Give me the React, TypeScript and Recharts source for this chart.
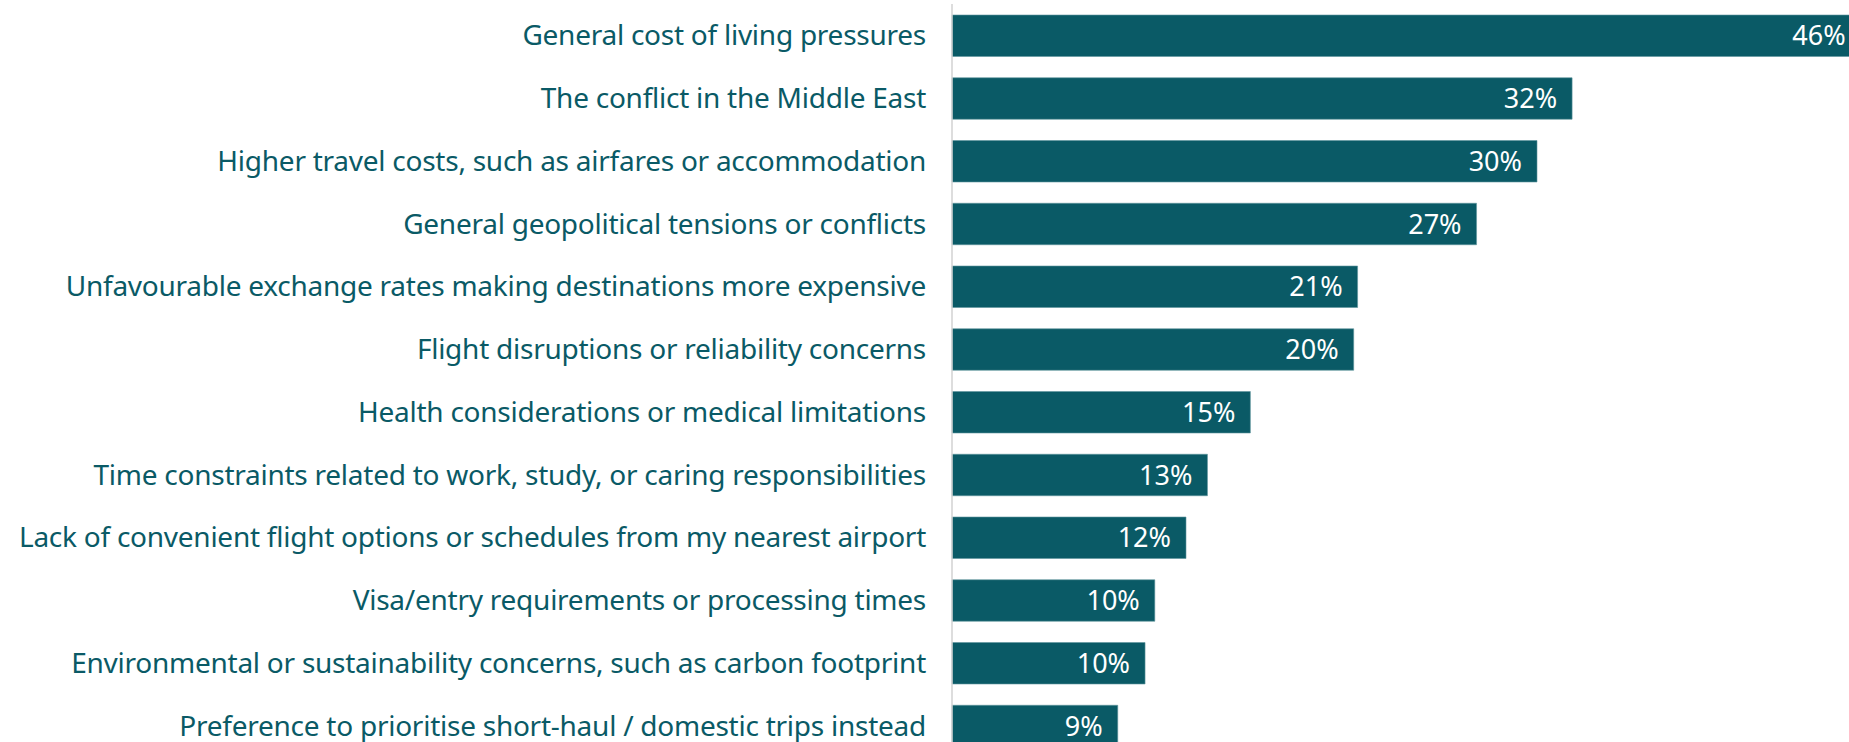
import { Bar, BarChart, LabelList, XAxis, YAxis } from "recharts";

const reasons = [
  "General cost of living pressures",
  "The conflict in the Middle East",
  "Higher travel costs, such as airfares or accommodation",
  "General geopolitical tensions or conflicts",
  "Unfavourable exchange rates making destinations more expensive",
  "Flight disruptions or reliability concerns",
  "Health considerations or medical limitations",
  "Time constraints related to work, study, or caring responsibilities",
  "Lack of convenient flight options or schedules from my nearest airport",
  "Visa/entry requirements or processing times",
  "Environmental or sustainability concerns, such as carbon footprint",
  "Preference to prioritise short-haul / domestic trips instead",
];

const shares = [46.6, 31.8, 30.0, 26.9, 20.8, 20.6, 15.3, 13.1, 12.0, 10.4, 9.9, 8.5];

const shareLabels = ["46%", "32%", "30%", "27%", "21%", "20%", "15%", "13%", "12%", "10%", "10%", "9%"];

const data = reasons.map((reason, i) => ({
  reason,
  share: shares[i],
  label: shareLabels[i],
}));

const teal = "#0a5a66";

export default function App() {
  return (
    <div
      style={{
        position: "absolute",
        top: 0,
        left: 0,
        width: 1849,
        height: 742,
        overflow: "hidden",
        background: "#fff",
      }}
    >
      <BarChart
        layout="vertical"
        data={data}
        width={1927}
        height={757}
        margin={{ top: 4, right: 0, bottom: 0, left: 0 }}
      >
        <XAxis type="number" domain={[0, 50]} hide />
        <YAxis
          type="category"
          dataKey="reason"
          width={952}
          tickLine={false}
          tickSize={0}
          tickMargin={26}
          axisLine={{ stroke: "#d2d2d2", strokeWidth: 1.5 }}
          interval={0}
          tick={{
            fill: teal,
            fontSize: 28,
            letterSpacing: -0.25,
            fontFamily: "'Noto Sans', sans-serif",
          }}
        />
        <Bar
          dataKey="share"
          fill={teal}
          stroke="#5f959d"
          strokeWidth={0.6}
          barSize={41.5}
          isAnimationActive={false}
        >
          <LabelList
            dataKey="label"
            position="insideRight"
            offset={15}
            fill="#ffffff"
            fontSize={27}
            fontFamily="'Noto Sans', sans-serif"
          />
        </Bar>
      </BarChart>
    </div>
  );
}
